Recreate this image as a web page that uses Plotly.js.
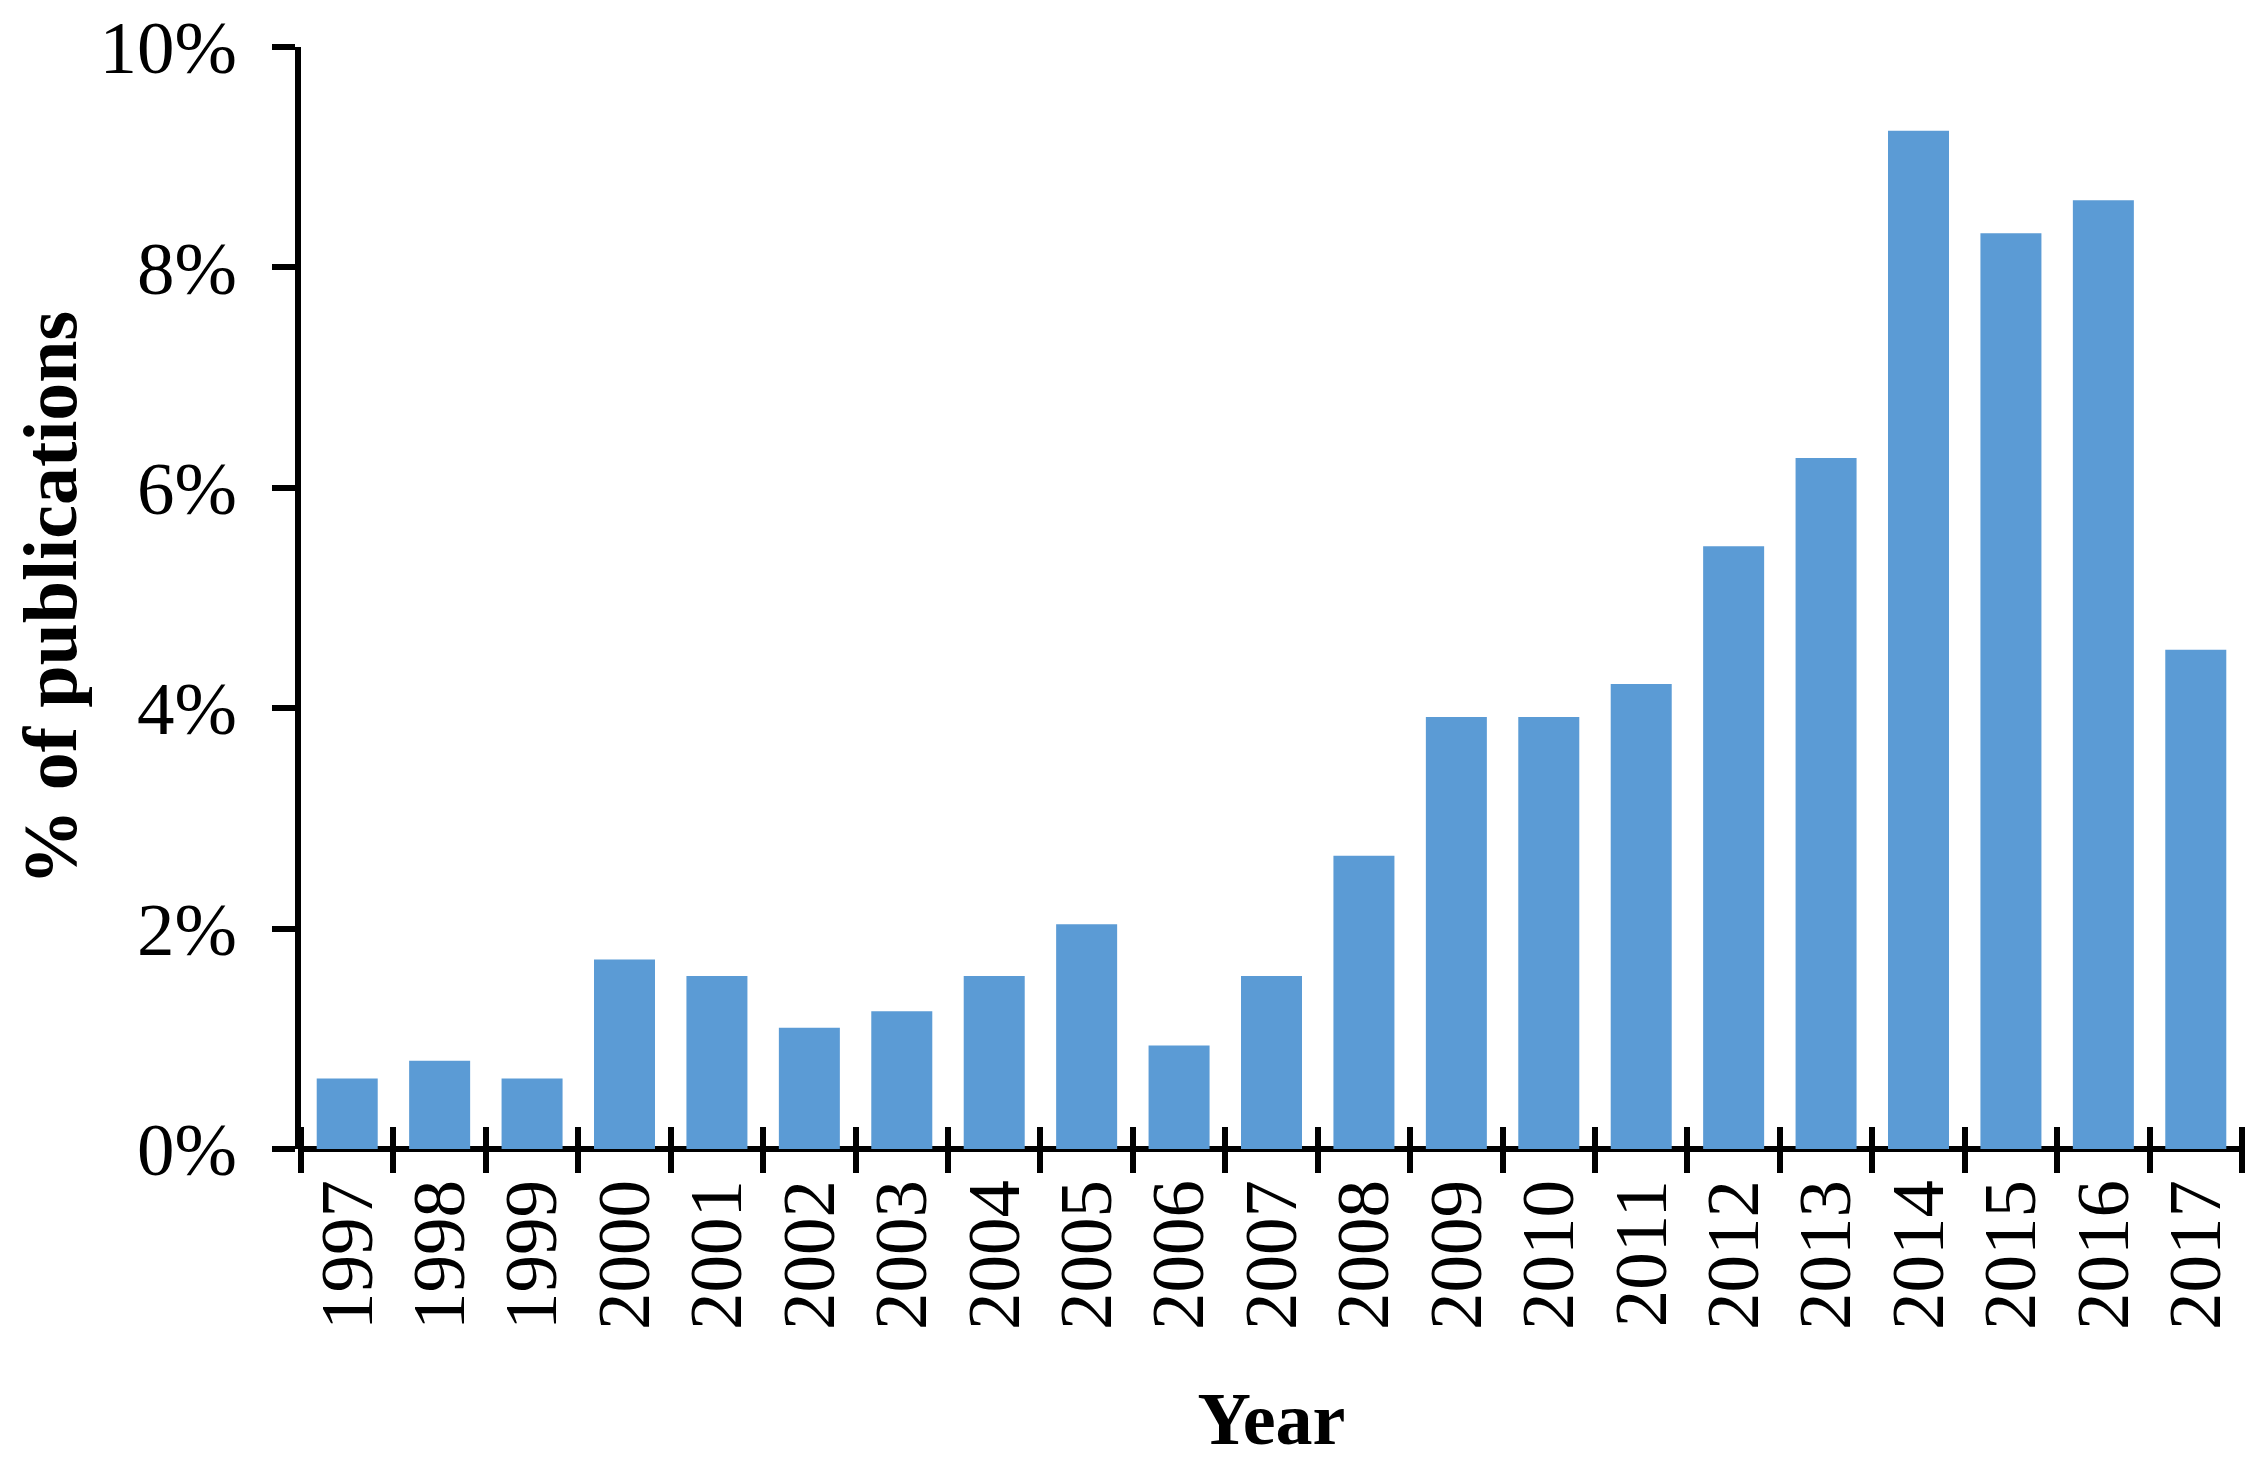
<!DOCTYPE html>
<html>
<head>
<meta charset="utf-8">
<script src="https://cdn.plot.ly/plotly-3.0.1.min.js"></script>
<style>html,body{margin:0;padding:0;background:#fff;}#chart{width:2258px;height:1463px;}</style>
</head>
<body>
<div id="chart"></div>
<script>
const years = ["1997","1998","1999","2000","2001","2002","2003","2004","2005","2006","2007","2008","2009","2010","2011","2012","2013","2014","2015","2016","2017"];
const sharePct = [0.64,0.80,0.64,1.72,1.57,1.10,1.25,1.57,2.04,0.94,1.57,2.66,3.92,3.92,4.22,5.47,6.27,9.24,8.31,8.61,4.53];
const yTickVals = [0,2,4,6,8,10];
const yTickText = ["0%","2%","4%","6%","8%","10%"];

const fontFam = '"Liberation Serif", "Times New Roman", serif';

const W = 2258, H = 1463;
const M = {l: 301, r: 16, t: 47, b: 314};
const plotH = H - M.t - M.b;
const tickHalf = 23;   // crossing ticks: half above, half below the axis line

const trace = {
  type: 'bar',
  x: years,
  y: sharePct,
  marker: {color: '#5B9BD5', line: {width: 0}},
  hoverinfo: 'x+y'
};

const layout = {
  width: W, height: H,
  margin: {l: M.l, r: M.r, t: M.t, b: M.b, pad: 0},
  paper_bgcolor: '#ffffff',
  plot_bgcolor: '#ffffff',
  showlegend: false,
  bargap: 0.34,
  font: {family: fontFam, color: '#000000', size: 75},
  xaxis: {
    type: 'category',
    categoryorder: 'array',
    categoryarray: years,
    range: [-0.5, 20.5],
    anchor: 'free',
    position: tickHalf / plotH,   // tick origin half a tick above y=0 so ticks cross the axis line
    showline: false,
    ticks: 'outside', ticklen: 2 * tickHalf, tickwidth: 6, tickcolor: '#000',
    tickson: 'boundaries',
    tickangle: -90,
    ticklabelstandoff: 38,
    tickfont: {family: fontFam, size: 75, color: '#000'},
    showgrid: false, zeroline: false,
    automargin: false,
    layer: 'above traces',
    title: {text: '<b>Year</b>', font: {family: fontFam, size: 74, color: '#000'}, standoff: 63}
  },
  yaxis: {
    range: [0, 10],
    tickvals: yTickVals,
    ticktext: yTickText,
    showline: true, linecolor: '#000', linewidth: 6,
    zeroline: true, zerolinecolor: '#000', zerolinewidth: 6,
    ticks: 'outside', ticklen: 23, tickwidth: 6, tickcolor: '#000',
    tickfont: {family: fontFam, size: 75, color: '#000'},
    ticklabelstandoff: 20,
    showgrid: false,
    automargin: false,
    layer: 'above traces',
    title: {text: '<b>% of publications</b>', font: {family: fontFam, size: 76, color: '#000'}, standoff: 0}
  }
};

Plotly.newPlot('chart', [trace], layout, {displayModeBar: false, staticPlot: true});
</script>
</body>
</html>
